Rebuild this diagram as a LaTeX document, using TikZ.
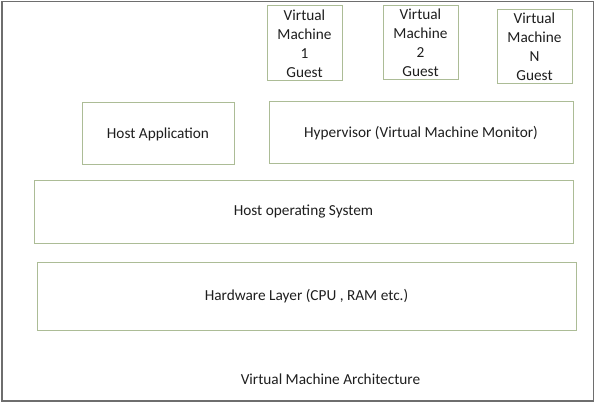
\documentclass[tikz,border=0pt]{standalone}
\usepackage{fontspec}
\setmainfont{Carlito}
\definecolor{boxc}{RGB}{172,188,150}
\definecolor{framec}{RGB}{110,110,110}
\definecolor{txt}{RGB}{30,30,30}
\begin{document}
\begin{tikzpicture}[x=1pt,y=-1pt,
  lay/.style={draw=boxc,line width=1pt,inner sep=0pt,text=txt,font=\fontsize{15.3}{18}\selectfont,align=center},
  vm/.style={lay,font=\fontsize{15.3}{19}\selectfont}]
\useasboundingbox (0,0) rectangle (596,403);
\draw[framec,line width=1.2pt] (2,1.5) rectangle (593.5,401);
\node[vm,minimum width=75pt,minimum height=75pt] (vm1) at (304.5,43.5) {Virtual\\Machine\\1\\Guest};
\node[vm,minimum width=75pt,minimum height=74pt] (vm2) at (420.5,43) {Virtual\\Machine\\2\\Guest};
\node[vm,minimum width=75pt,minimum height=74pt] (vmn) at (534.5,47) {Virtual\\Machine\\N\\Guest};
\node[lay,minimum width=152pt,minimum height=62pt] (app) at (158,134) {Host Application};
\node[lay,minimum width=304pt,minimum height=62pt] (hyp) at (421,133) {Hypervisor (Virtual Machine Monitor)};
\node[lay,minimum width=539pt,minimum height=62pt] (os) at (303.5,212) {Host operating System};
\node[lay,minimum width=539pt,minimum height=68pt] (hw) at (306.5,296) {Hardware Layer (CPU , RAM etc.)};
\node[text=txt,font=\fontsize{15.3}{18}\selectfont] (cap) at (330.5,379) {Virtual Machine Architecture};
\end{tikzpicture}
\end{document}
